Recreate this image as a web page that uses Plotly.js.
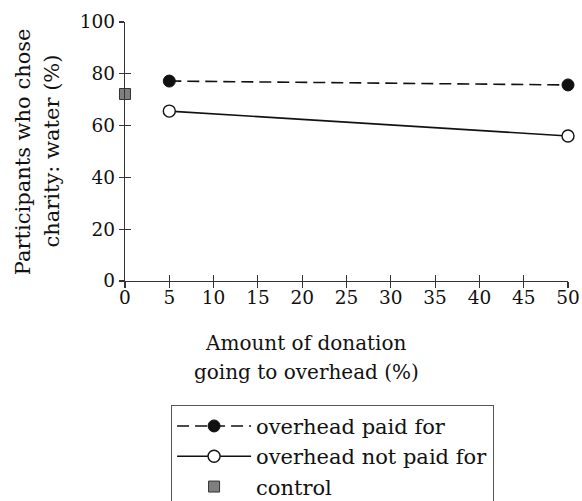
<!DOCTYPE html>
<html>
<head>
<meta charset="utf-8">
<script src="https://cdn.plot.ly/plotly-3.0.1.min.js"></script>
<style>html,body{margin:0;padding:0;background:#fff;}#chart{width:582px;height:501px;}</style>
</head>
<body>
<div id="chart"></div>
<script>
var paidX = [5, 50];
var paidY = [77.2, 75.7];
var notPaidX = [5, 50];
var notPaidY = [65.6, 56.0];
var controlX = [0];
var controlY = [72.2];
var xTicks = [0, 5, 10, 15, 20, 25, 30, 35, 40, 45, 50];
var yTicks = [0, 20, 40, 60, 80, 100];
var names = ['overhead paid for', 'overhead not paid for', 'control'];
var yTitleLines = ['Participants who chose', 'charity: water (%)'];
var xTitleLines = ['Amount of donation', 'going to overhead (%)'];

var FONT = 'DejaVu Serif';

var traces = [
  {x: paidX, y: paidY, name: names[0], mode: 'lines+markers', type: 'scatter',
   line: {color: '#111', width: 1.6, dash: '12px,6px'},
   marker: {symbol: 'circle', size: 12, color: '#111', line: {color: '#111', width: 1}},
   cliponaxis: false},
  {x: notPaidX, y: notPaidY, name: names[1], mode: 'lines+markers', type: 'scatter',
   line: {color: '#111', width: 1.6},
   marker: {symbol: 'circle', size: 12, color: '#fff', line: {color: '#111', width: 1.4}},
   cliponaxis: false},
  {x: controlX, y: controlY, name: names[2], mode: 'markers', type: 'scatter',
   marker: {symbol: 'square', size: 11, color: '#7f7f7f', line: {color: '#333', width: 1}},
   cliponaxis: false},
  {x: [], y: [], xaxis: 'x2', yaxis: 'y2', showlegend: false, type: 'scatter', hoverinfo: 'skip'}
];

var layout = {
  width: 582, height: 501,
  margin: {l: 125, r: 14, t: 22, b: 220, pad: 0, autoexpand: false},
  paper_bgcolor: '#fff', plot_bgcolor: '#fff',
  font: {family: FONT, size: 19, color: '#111'},
  showlegend: true,
  xaxis: {range: [0, 50], tickvals: xTicks, ticktext: xTicks.map(String),
    ticks: 'outside', ticklen: 6, tickwidth: 1.2, tickcolor: '#333', ticklabelstandoff: -6,
    showline: true, linecolor: '#333', linewidth: 1.2, showgrid: false, zeroline: false,
    tickfont: {family: FONT, size: 18.5, color: '#111'}, fixedrange: true, automargin: false},
  yaxis: {range: [0, 100], tickvals: yTicks, ticktext: yTicks.map(String),
    ticks: 'outside', ticklen: 5, tickwidth: 1.2, tickcolor: '#333',
    showline: true, linecolor: '#333', linewidth: 1.2, showgrid: false, zeroline: false,
    tickfont: {family: FONT, size: 18.5, color: '#111'}, fixedrange: true, automargin: false},
  xaxis2: {range: [0, 50], overlaying: 'x', anchor: 'y2', tickvals: xTicks,
    ticks: 'inside', ticklen: 6, tickwidth: 1.2, tickcolor: '#333',
    showticklabels: false, showline: false, showgrid: false, zeroline: false},
  yaxis2: {range: [0, 100], overlaying: 'y', anchor: 'x2', tickvals: yTicks,
    ticks: 'inside', ticklen: 6, tickwidth: 1.2, tickcolor: '#333',
    showticklabels: false, showline: false, showgrid: false, zeroline: false},
  legend: {x: 0.104, xanchor: 'left', y: -0.478, yanchor: 'top',
    bordercolor: '#555', borderwidth: 1, bgcolor: '#fff',
    font: {family: FONT, size: 21, color: '#111'},
    itemwidth: 74, tracegroupgap: 0},
  annotations: [
    {text: yTitleLines[0], xref: 'paper', yref: 'paper',
     x: -0.231, y: 0.5, xanchor: 'center', yanchor: 'middle', textangle: -90,
     showarrow: false, font: {family: FONT, size: 21, color: '#111'}},
    {text: yTitleLines[1], xref: 'paper', yref: 'paper',
     x: -0.167, y: 0.5, xanchor: 'center', yanchor: 'middle', textangle: -90,
     showarrow: false, font: {family: FONT, size: 21, color: '#111'}},
    {text: xTitleLines[0], xref: 'paper', yref: 'paper',
     x: 0.4086, y: -0.2394, xanchor: 'center', yanchor: 'middle',
     showarrow: false, font: {family: FONT, size: 20, color: '#111'}},
    {text: xTitleLines[1], xref: 'paper', yref: 'paper',
     x: 0.4086, y: -0.3514, xanchor: 'center', yanchor: 'middle',
     showarrow: false, font: {family: FONT, size: 20, color: '#111'}}
  ]
};

Plotly.newPlot('chart', traces, layout, {displayModeBar: false, staticPlot: true});
</script>
</body>
</html>
